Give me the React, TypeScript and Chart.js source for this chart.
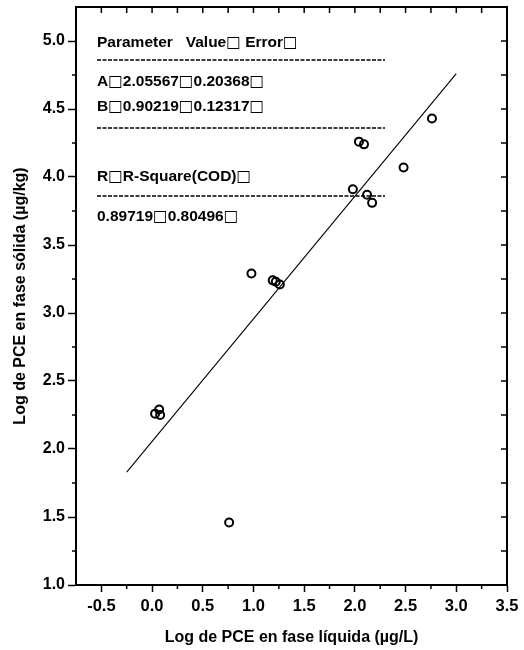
import React, { useEffect, useRef } from "react";
import { Chart, registerables } from "chart.js";

Chart.register(...registerables);

// Measured points (log liquid phase vs log solid phase)
const pointX = [1.98, 2.12, 2.17, 2.04, 2.09, 2.48, 2.76, 0.98, 1.19, 1.22, 1.26, 0.03, 0.07, 0.08, 0.76];
const pointY = [3.91, 3.87, 3.81, 4.26, 4.24, 4.07, 4.43, 3.29, 3.24, 3.23, 3.21, 2.26, 2.29, 2.25, 1.46];

// Linear fit line end points
const fitX = [-0.25, 3.0];
const fitY = [1.83, 4.76];

// Axis ticks
const xMajorTicks = [-0.5, 0, 0.5, 1, 1.5, 2, 2.5, 3, 3.5];
const xTickLabels = ["-0.5", "0.0", "0.5", "1.0", "1.5", "2.0", "2.5", "3.0", "3.5"];
const xMinorTicks = [-0.25, 0.25, 0.75, 1.25, 1.75, 2.25, 2.75, 3.25];
const yMajorTicks = [1, 1.5, 2, 2.5, 3, 3.5, 4, 4.5, 5];
const yTickLabels = ["1.0", "1.5", "2.0", "2.5", "3.0", "3.5", "4.0", "4.5", "5.0"];
const yMinorTicks = [1.25, 1.75, 2.25, 2.75, 3.25, 3.75, 4.25, 4.75, 5.25];

const xTitle = "Log de PCE en fase líquida (µg/L)";
const yTitle = "Log de PCE en fase sólida (µg/kg)";

// Fit statistics text block
const statsLines = [
  "Parameter   Value\u25A1 Error\u25A1",
  "A\u25A12.05567\u25A10.20368\u25A1",
  "B\u25A10.90219\u25A10.12317\u25A1",
  "R\u25A1R-Square(COD)\u25A1",
  "0.89719\u25A10.80496\u25A1",
];

const FONT = "'Liberation Sans', Arial, sans-serif";
const TEXT_FONT = `bold 15.5px ${FONT}`;
const BOX_FONT = "15.5px 'DejaVu Sans'";

function drawMixed(ctx: CanvasRenderingContext2D, text: string, x: number, y: number) {
  let cx = x;
  let run = "";
  const flush = () => {
    if (!run) return;
    ctx.font = TEXT_FONT;
    ctx.fillText(run, cx, y);
    cx += ctx.measureText(run).width;
    run = "";
  };
  for (const ch of text) {
    if (ch === "\u25A1") {
      flush();
      ctx.font = BOX_FONT;
      ctx.fillText(ch, cx, y);
      cx += ctx.measureText(ch).width;
    } else {
      run += ch;
    }
  }
  flush();
}

const framePlugin = {
  id: "frameAndExtras",
  afterDraw(chart: any) {
    const { ctx, chartArea: a, scales } = chart;
    const xs = scales.x;
    const ys = scales.y;
    ctx.save();
    ctx.strokeStyle = "#000";
    ctx.lineWidth = 2;
    ctx.strokeRect(a.left, a.top, a.right - a.left, a.bottom - a.top);

    ctx.lineWidth = 1.5;
    ctx.beginPath();
    // bottom minor ticks (outward)
    xMinorTicks.forEach((v) => {
      const px = xs.getPixelForValue(v);
      ctx.moveTo(px, a.bottom);
      ctx.lineTo(px, a.bottom + 4);
    });
    // left minor ticks (outward)
    yMinorTicks.forEach((v) => {
      if (v >= ys.max) return;
      const py = ys.getPixelForValue(v);
      ctx.moveTo(a.left, py);
      ctx.lineTo(a.left - 4, py);
    });
    // top ticks (inward)
    [...xMajorTicks, ...xMinorTicks].forEach((v) => {
      if (v >= xs.max) return;
      const px = xs.getPixelForValue(v);
      ctx.moveTo(px, a.top);
      ctx.lineTo(px, a.top + 6);
    });
    // right ticks (inward)
    [...yMajorTicks, ...yMinorTicks].forEach((v) => {
      if (v <= ys.min || v >= ys.max) return;
      const py = ys.getPixelForValue(v);
      ctx.moveTo(a.right, py);
      ctx.lineTo(a.right - 6, py);
    });
    ctx.stroke();

    // stats text block
    const tx = a.left + 21;
    const lineYs = [36, 75, 100, 170, 210];
    ctx.fillStyle = "#000";
    ctx.textBaseline = "middle";
    ctx.textAlign = "left";
    statsLines.forEach((t, i) => drawMixed(ctx, t, tx, a.top + lineYs[i]));

    ctx.setLineDash([4, 1.5]);
    ctx.lineWidth = 1.5;
    ctx.beginPath();
    [53, 121, 189].forEach((dy) => {
      ctx.moveTo(tx, a.top + dy);
      ctx.lineTo(tx + 288, a.top + dy);
    });
    ctx.stroke();
    ctx.restore();
  },
};

export default function App() {
  const ref = useRef<HTMLCanvasElement>(null);
  useEffect(() => {
    if (!ref.current) return;
    const chart = new Chart(ref.current, {
      type: "scatter",
      data: {
        datasets: [
          {
            type: "line",
            data: fitX.map((x, i) => ({ x, y: fitY[i] })),
            borderColor: "#000",
            borderWidth: 1.1,
            pointRadius: 0,
            showLine: true,
            fill: false,
          } as any,
          {
            type: "scatter",
            data: pointX.map((x, i) => ({ x, y: pointY[i] })),
            pointStyle: "circle",
            pointRadius: 4,
            borderColor: "#000",
            borderWidth: 2,
            backgroundColor: "rgba(0,0,0,0)",
          },
        ],
      },
      options: {
        animation: false,
        responsive: false,
        layout: { padding: { top: 7, right: 17, left: 0, bottom: 0 } },
        plugins: { legend: { display: false }, tooltip: { enabled: false } },
        scales: {
          x: {
            type: "linear",
            min: -0.75,
            max: 3.5,
            afterBuildTicks: (s: any) => {
              s.ticks = xMajorTicks.map((v) => ({ value: v }));
            },
            afterFit: (s: any) => {
              s.height = 65;
              s.paddingLeft = 0;
              s.paddingRight = 0;
            },
            ticks: {
              autoSkip: false,
              maxRotation: 0,
              color: "#000",
              padding: 5,
              font: { family: FONT, size: 16.5, weight: "bold" },
              callback: (_v: any, i: number) => xTickLabels[i],
            },
            grid: { drawOnChartArea: false, tickLength: 7, tickWidth: 1.5, tickColor: "#000" },
            border: { display: true, width: 2, color: "#000" },
            title: {
              display: true,
              text: xTitle,
              color: "#000",
              font: { family: FONT, size: 16, weight: "bold" },
              padding: { top: 0, bottom: 3 },
            },
          },
          y: {
            type: "linear",
            min: 1,
            max: 5.25,
            afterBuildTicks: (s: any) => {
              s.ticks = yMajorTicks.map((v) => ({ value: v }));
            },
            afterFit: (s: any) => {
              s.width = 76;
              s.paddingTop = 0;
              s.paddingBottom = 0;
            },
            ticks: {
              autoSkip: false,
              color: "#000",
              padding: 3,
              font: { family: FONT, size: 16, weight: "bold" },
              callback: (_v: any, i: number) => yTickLabels[i],
            },
            grid: { drawOnChartArea: false, tickLength: 8, tickWidth: 1.5, tickColor: "#000" },
            border: { display: true, width: 2, color: "#000" },
            title: {
              display: true,
              text: yTitle,
              color: "#000",
              font: { family: FONT, size: 16, weight: "bold" },
              padding: { top: 11, bottom: 0 },
            },
          },
        },
      },
      plugins: [framePlugin],
    });
    return () => chart.destroy();
  }, []);
  return (
    <div style={{ position: "fixed", left: 0, top: 0, width: 524, height: 650, background: "#fff" }}>
      <canvas ref={ref} width={524} height={650} />
    </div>
  );
}
